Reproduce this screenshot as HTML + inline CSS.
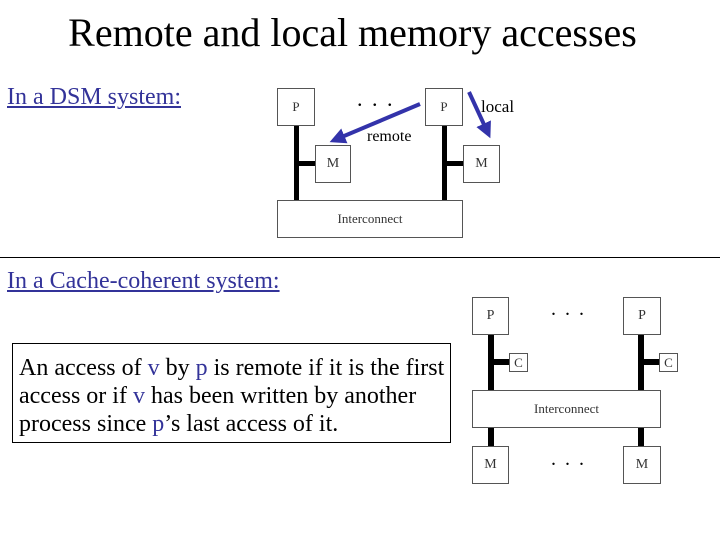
<!DOCTYPE html>
<html><head><style>
body{margin:0;width:720px;height:540px;background:#fff;position:relative;overflow:hidden;font-family:"Liberation Serif",serif}
.a{position:absolute}
.b{position:absolute;border:1px solid #555;background:#fff;box-sizing:border-box;font-size:13px;display:flex;align-items:center;justify-content:center;color:#333}
.v{position:absolute;background:#000}
</style></head><body>
<div class="a" style="left:0;width:705px;top:9px;text-align:center;font-size:40px;white-space:nowrap">Remote and local memory accesses</div>
<div class="a" style="left:7px;top:84px;font-size:24px;color:#333399;text-decoration:underline;white-space:nowrap">In a DSM system:</div>
<div class="a" style="left:0;top:257px;width:720px;height:1px;background:#000"></div>
<div class="a" style="left:7px;top:268px;font-size:24px;color:#333399;text-decoration:underline;white-space:nowrap">In a Cache-coherent system:</div>
<div class="a" style="left:12px;top:343px;width:439px;height:100px;border:1px solid #000;box-sizing:border-box;font-size:24px;line-height:28px;padding:10px 0 0 6px;white-space:nowrap">An access of <span style="color:#333399">v</span> by <span style="color:#333399">p</span> is remote if it is the first<br>access or if <span style="color:#333399">v</span> has been written by another<br>process since <span style="color:#333399">p</span>’s last access of it.</div>

<!-- DSM -->
<div class="v" style="left:294px;top:125px;width:5px;height:77px"></div>
<div class="v" style="left:442px;top:125px;width:5px;height:77px"></div>
<div class="v" style="left:296px;top:161px;width:20px;height:5px"></div>
<div class="v" style="left:444px;top:161px;width:20px;height:5px"></div>
<div class="b" style="left:277px;top:88px;width:38px;height:38px">P</div>
<div class="b" style="left:425px;top:88px;width:38px;height:38px">P</div>
<div class="b" style="left:315px;top:145px;width:36px;height:38px;font-size:14px">M</div>
<div class="b" style="left:463px;top:145px;width:37px;height:38px;font-size:14px">M</div>
<div class="b" style="left:277px;top:200px;width:186px;height:38px">Interconnect</div>
<div class="a" style="left:357px;top:86px;font-size:22px;letter-spacing:2px">. . .</div>
<div class="a" style="left:367px;top:128px;font-size:16px">remote</div>
<div class="a" style="left:481px;top:97px;font-size:17px">local</div>
<svg class="a" style="left:0;top:0" width="720" height="540">
<defs><marker id="m" markerWidth="4" markerHeight="4" refX="2" refY="2" orient="auto"><path d="M0,0L4,2L0,4z" fill="#3333aa"/></marker></defs>
<line x1="420" y1="104" x2="337" y2="139" stroke="#3333aa" stroke-width="4" marker-end="url(#m)"/>
<line x1="469" y1="92" x2="487" y2="131" stroke="#3333aa" stroke-width="4" marker-end="url(#m)"/>
</svg>

<!-- Cache coherent -->
<div class="v" style="left:488px;top:333px;width:6px;height:58px"></div>
<div class="v" style="left:638px;top:333px;width:6px;height:58px"></div>
<div class="v" style="left:491px;top:359px;width:18px;height:6px"></div>
<div class="v" style="left:641px;top:359px;width:18px;height:6px"></div>
<div class="v" style="left:488px;top:426px;width:6px;height:21px"></div>
<div class="v" style="left:638px;top:426px;width:6px;height:21px"></div>
<div class="b" style="left:472px;top:297px;width:37px;height:38px;font-size:14px">P</div>
<div class="b" style="left:623px;top:297px;width:38px;height:38px;font-size:14px">P</div>
<div class="b" style="left:509px;top:353px;width:19px;height:19px">C</div>
<div class="b" style="left:659px;top:353px;width:19px;height:19px">C</div>
<div class="b" style="left:472px;top:390px;width:189px;height:38px">Interconnect</div>
<div class="b" style="left:472px;top:446px;width:37px;height:38px;font-size:14px">M</div>
<div class="b" style="left:623px;top:446px;width:38px;height:38px;font-size:14px">M</div>
<div class="a" style="left:551px;top:298px;font-size:20px;letter-spacing:2px">. . .</div>
<div class="a" style="left:551px;top:448px;font-size:20px;letter-spacing:2px">. . .</div>
</body></html>
